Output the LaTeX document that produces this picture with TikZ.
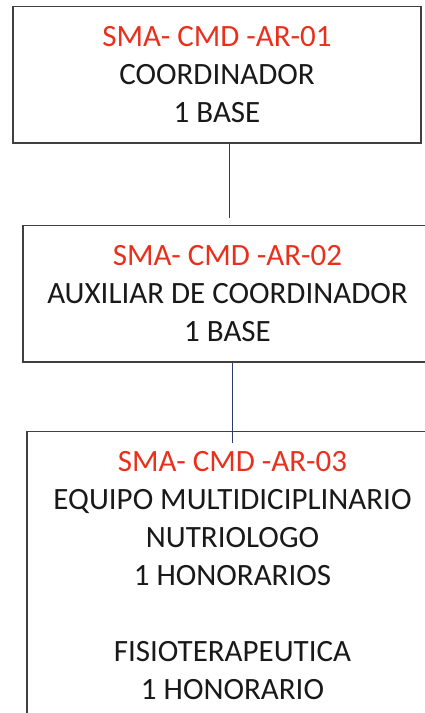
\documentclass[tikz,border=0pt]{standalone}
\usepackage{fontspec}
\setmainfont{Carlito}
\definecolor{codered}{RGB}{232,48,28}
\definecolor{linkblue}{RGB}{40,60,115}

\begin{document}
\begin{tikzpicture}[x=1pt,y=1pt,
	puesto/.style={draw=black!75, line width=1.2pt, rectangle, align=center, anchor=north,
		inner xsep=0pt, inner ysep=20pt, font=\fontsize{31}{38}\selectfont, text=black!90},
	enlace/.style={draw=linkblue, line width=0.8pt}]
	\useasboundingbox (0,0) rectangle (425,-713);   % page size

	\node[puesto, minimum width=408pt] (coord) at (217,-6)
		{{\color{codered}SMA- CMD -AR-01}\\COORDINADOR\\1 BASE};
	\node[puesto, minimum width=409pt] (aux) at (227.5,-225)
		{{\color{codered}SMA- CMD -AR-02}\\AUXILIAR DE COORDINADOR\\1 BASE};
	\node[puesto, minimum width=411pt] (equipo) at (232.5,-431)
		{{\color{codered}SMA- CMD -AR-03}\\EQUIPO MULTIDICIPLINARIO\\NUTRIOLOGO\\1 HONORARIOS\\[38pt]
		FISIOTERAPEUTICA\\1 HONORARIO};

	\coordinate (fin1) at (229,-218);   % line stops short of the box
	\coordinate (fin2) at (232,-443);   % line runs into the box
	\draw[enlace] (coord.south -| fin1) -- (fin1);
	\draw[enlace] (aux.south -| fin2) -- (fin2);
\end{tikzpicture}
\end{document}
